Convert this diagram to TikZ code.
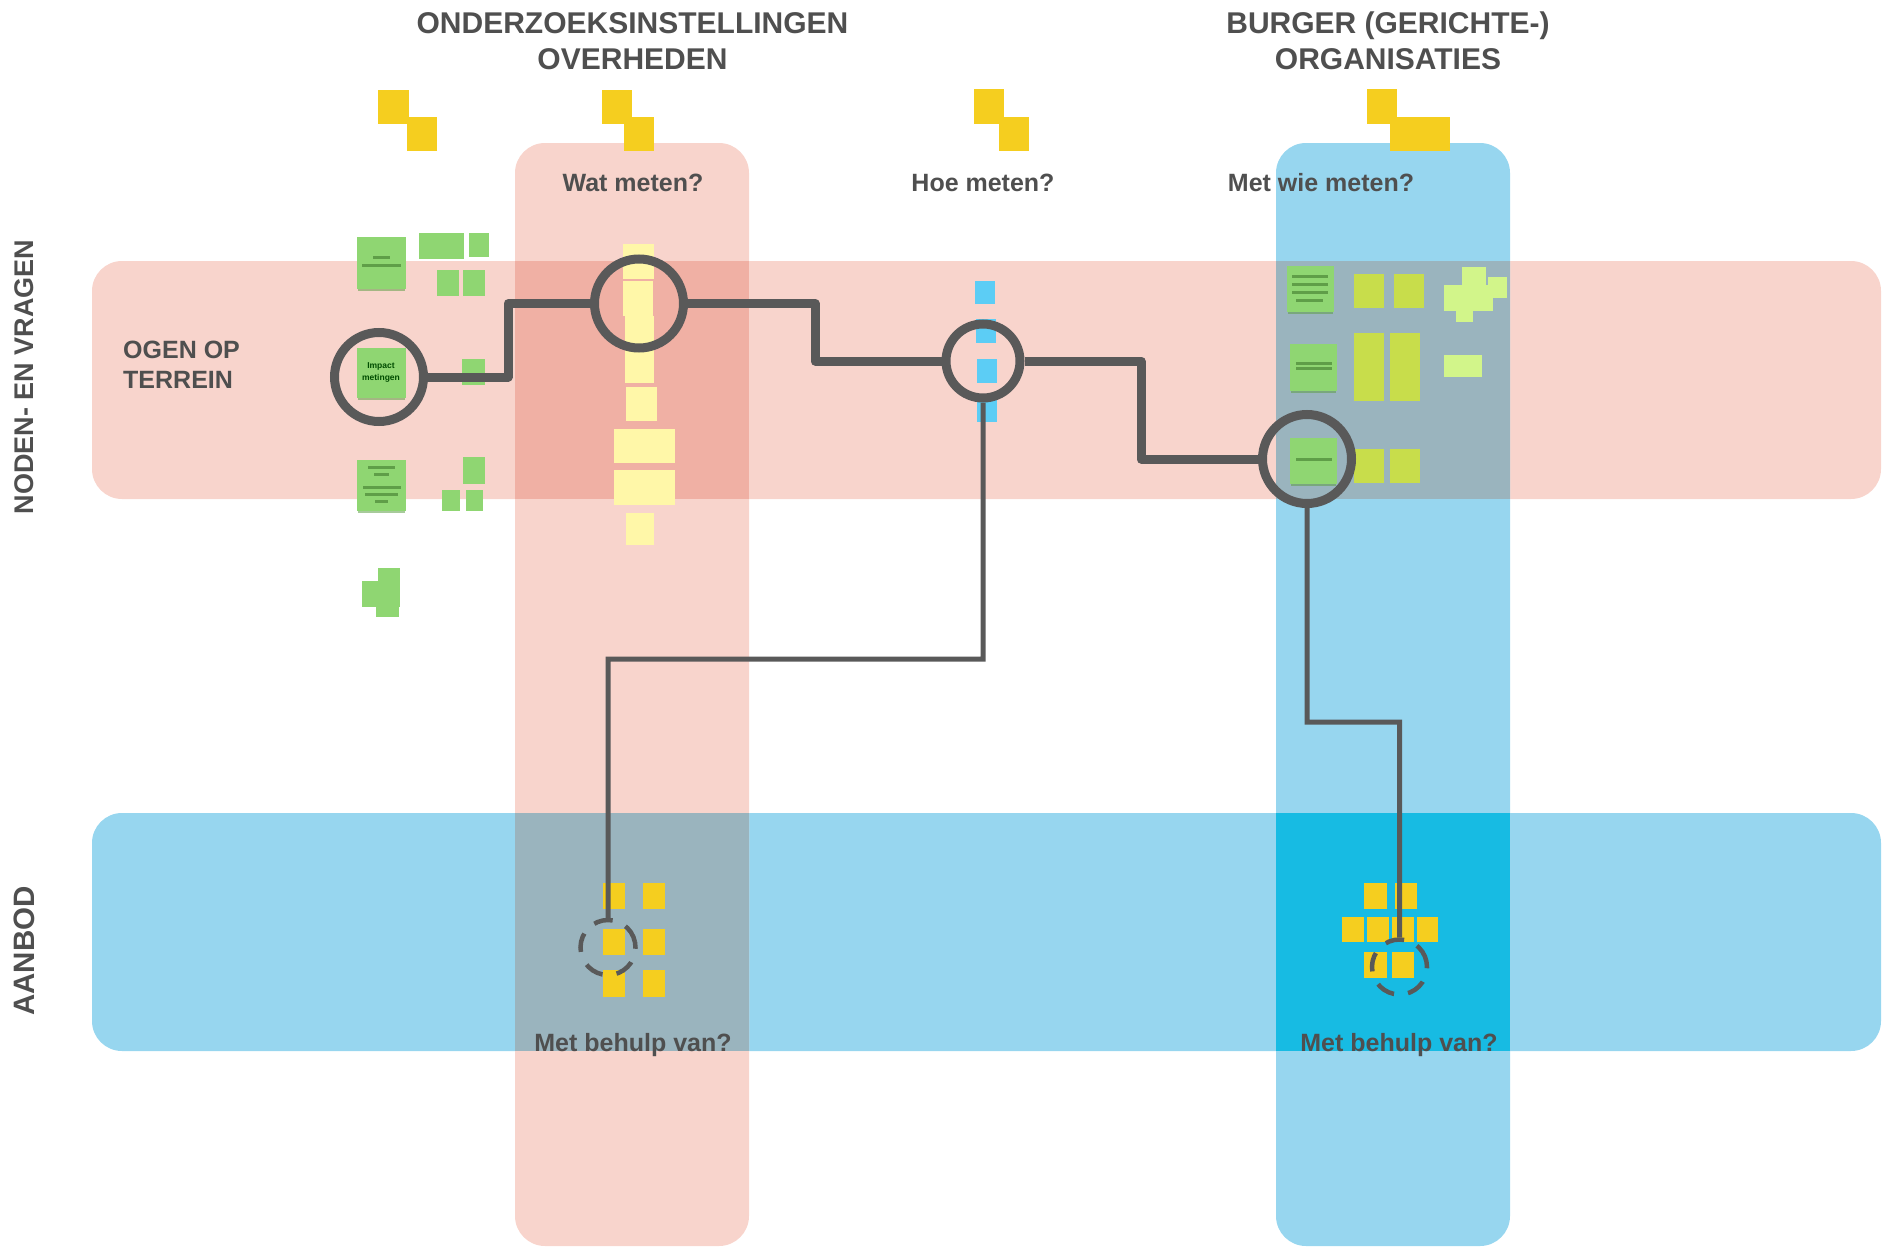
\documentclass[tikz,border=0pt]{standalone}
\usepackage{fontspec}
\setmainfont{Liberation Sans}
\definecolor{txt}{HTML}{4F4F4F}
\definecolor{lin}{HTML}{595959}
\definecolor{pinkb}{HTML}{F8D4CC}
\definecolor{blueb}{HTML}{97D6EF}
\definecolor{pinkpink}{HTML}{F0B0A4}
\definecolor{mixb}{HTML}{9AB4BE}
\definecolor{blueblue}{HTML}{17BBE3}
\definecolor{yel}{HTML}{F5CE1F}
\definecolor{pale}{HTML}{FFF7A8}
\definecolor{grn}{HTML}{8FD672}
\definecolor{grd}{HTML}{5F9E48}
\definecolor{sky}{HTML}{5CCDF5}
\definecolor{oli}{HTML}{C8DD4B}
\definecolor{lime}{HTML}{D2F58A}
\tikzset{
  band/.style={rounded corners=30pt,draw=none},
  ring/.style={circle,draw=lin,line width=9pt,minimum size=89pt,inner sep=0pt,fill=none},
  dashring/.style={circle,draw=lin,line width=4.5pt,minimum size=55pt,inner sep=0pt,fill=none,rotate=11,dash pattern=on 19pt off 14.2pt},
  thickcon/.style={draw=lin,line width=9pt,line join=round},
  thincon/.style={draw=lin,line width=5pt,line join=miter},
  heading/.style={text=txt,font=\bfseries\fontsize{30}{36}\selectfont,align=center,inner sep=0pt},
  question/.style={text=txt,font=\bfseries\fontsize{25}{30}\selectfont,align=center,inner sep=0pt},
  side/.style={text=txt,font=\bfseries\fontsize{27}{33}\selectfont,rotate=90,inner sep=0pt},
  rule/.style={draw=grd,line width=3pt},
}
\newcommand{\nt}[5]{\fill[#5] (#1,#2) rectangle (#3,#4);}
\newcommand{\ntshadow}[3]{\fill[grd,opacity=.55] (#1,#3) rectangle (#2,#3+3);}
\begin{document}
\begin{tikzpicture}[x=1pt,y=-1pt]
\useasboundingbox (0,0) rectangle (1888,1255);
% bands
\fill[pinkb,band] (92,261) rectangle (1881,499);
\fill[blueb,band] (92,813) rectangle (1881,1051);
\fill[pinkb,band] (515,143) rectangle (749,1246);
\fill[blueb,band] (1276,143) rectangle (1510,1246);
\fill[pinkpink] (515,261) rectangle (749,499);
\fill[mixb] (1276,261) rectangle (1510,499);
\fill[mixb] (515,813) rectangle (749,1051);
\fill[blueblue] (1276,813) rectangle (1510,1051);
% top yellow notes
\nt{378}{90}{409}{124}{yel}\nt{407}{117}{437}{151}{yel}
\nt{602}{90}{632}{124}{yel}\nt{624}{117}{654}{151}{yel}
\nt{974}{89}{1004}{124}{yel}\nt{999}{117}{1029}{151}{yel}
\nt{1367}{89}{1397}{124}{yel}\nt{1390}{117}{1450}{151}{yel}
% pale yellow column
\nt{623}{244}{654}{279}{pale}\nt{623}{281}{653}{316}{pale}
\nt{625}{316}{654}{383}{pale}\nt{626}{387}{657}{421}{pale}
\nt{614}{429}{675}{463}{pale}\nt{614}{470}{675}{505}{pale}
\nt{626}{513}{654}{545}{pale}
% left green notes
\ntshadow{358}{405}{288}\nt{357}{237}{406}{289}{grn}
\draw[rule] (373,257) -- (390,257); \draw[rule] (362,265) -- (401,265);
\nt{419}{233}{464}{259}{grn}\nt{469}{233}{489}{257}{grn}
\nt{437}{270}{459}{296}{grn}\nt{463}{270}{485}{296}{grn}
\ntshadow{358}{405}{397}\nt{357}{348}{406}{398}{grn}
\nt{462}{359}{485}{385}{grn}
\ntshadow{358}{405}{510}\nt{357}{460}{406}{511}{grn}
\draw[rule] (368,467) -- (395,467); \draw[rule] (374,474) -- (389,474);
\draw[rule] (363,487) -- (401,487); \draw[rule] (365,494) -- (398,494);
\draw[rule] (375,501) -- (388,501);
\nt{463}{457}{485}{484}{grn}\nt{442}{490}{460}{511}{grn}\nt{466}{490}{483}{511}{grn}
\nt{378}{568}{400}{595}{grn}\nt{362}{581}{400}{607}{grn}\nt{376}{595}{399}{617}{grn}
% blue small notes
\nt{975}{281}{995}{304}{sky}\nt{976}{319}{996}{343}{sky}
\nt{977}{359}{997}{383}{sky}\nt{977}{400}{997}{422}{sky}
% right column notes
\ntshadow{1288}{1333}{311}\nt{1287}{266}{1334}{312}{grn}
\draw[rule] (1292,276) -- (1328,276); \draw[rule] (1292,284) -- (1328,284);
\draw[rule] (1292,292) -- (1328,292); \draw[rule] (1296,300) -- (1323,300);
\ntshadow{1291}{1336}{390}\nt{1290}{344}{1337}{391}{grn}
\draw[rule] (1296,363) -- (1332,363); \draw[rule] (1296,368) -- (1332,368);
\ntshadow{1291}{1336}{483}\nt{1290}{438}{1337}{484}{grn}
\draw[rule] (1296,459) -- (1332,459);
\nt{1354}{274}{1384}{308}{oli}\nt{1394}{274}{1424}{308}{oli}
\nt{1354}{333}{1384}{401}{oli}\nt{1390}{333}{1420}{401}{oli}
\nt{1354}{449}{1384}{483}{oli}\nt{1390}{449}{1420}{483}{oli}
\nt{1462}{267}{1486}{293}{lime}\nt{1488}{277}{1507}{298}{lime}
\nt{1444}{285}{1493}{311}{lime}\nt{1456}{311}{1473}{322}{lime}
\nt{1444}{355}{1482}{377}{lime}
% bottom yellow notes
\nt{603}{883}{625}{909}{yel}\nt{643}{883}{665}{909}{yel}
\nt{603}{929}{625}{955}{yel}\nt{643}{929}{665}{955}{yel}
\nt{603}{970}{625}{997}{yel}\nt{643}{970}{665}{997}{yel}
\nt{1364}{883}{1387}{909}{yel}\nt{1395}{883}{1417}{909}{yel}
\nt{1342}{917}{1364}{942}{yel}\nt{1367}{917}{1389}{942}{yel}
\nt{1392}{917}{1414}{942}{yel}\nt{1417}{917}{1438}{942}{yel}
\nt{1364}{952}{1387}{978}{yel}\nt{1392}{952}{1414}{978}{yel}
% note text
\node[text=black!70!green,font=\bfseries\fontsize{8.5}{12}\selectfont,align=center,inner sep=0pt] (impact) at (381,372) {Impact\\metingen};
% rings
\node[ring] (c1) at (379,377) {};
\node[ring] (c2) at (639,303.5) {};
\node[ring,minimum size=74pt] (c3) at (983,361) {};
\node[ring] (c4) at (1307,459) {};
\node[dashring] (d1) at (608,947.5) {};
\node[dashring] (d2) at (1399.5,967) {};
% connectors
\coordinate (k1) at (508,377);
\coordinate (k2) at (508,303.5);
\coordinate (k3) at (815,303.5);
\coordinate (k4) at (815,361);
\coordinate (k5) at (1141,361);
\coordinate (k6) at (1141,459);
\coordinate (k7) at (983,659);
\coordinate (k8) at (608,659);
\coordinate (k9) at (1307,722);
\coordinate (k10) at (1399.5,722);
\draw[thickcon] (c1) -- (k1) -- (k2) -- (c2);
\draw[thickcon] (c2) -- (k3) -- (k4) -- (c3);
\draw[thickcon] (c3) -- (k5) -- (k6) -- (c4);
\draw[thincon] (c3) -- (k7) -- (k8) -- (d1);
\draw[thincon] (c4) -- (k9) -- (k10) -- (d2);
% texts
\node[heading] (h1) at (632.5,41) {ONDERZOEKSINSTELLINGEN\\OVERHEDEN};
\node[heading] (h2) at (1388,41) {BURGER (GERICHTE-)\\ORGANISATIES};
\node[question] (q1) at (633,183) {Wat meten?};
\node[question] (q2) at (983,183) {Hoe meten?};
\node[question] (q3) at (1321,183) {Met wie meten?};
\node[question] (q4) at (633,1045) {Met behulp van?};
\node[question] (q5) at (1399,1045) {Met behulp van?};
\node[question,align=left,anchor=west] (q6) at (123,365) {OGEN OP\\TERREIN};
\node[side] (s1) at (24,377) {NODEN- EN VRAGEN};
\node[side,font=\bfseries\fontsize{29.5}{33}\selectfont] (s2) at (24,951) {AANBOD};
\end{tikzpicture}
\end{document}
